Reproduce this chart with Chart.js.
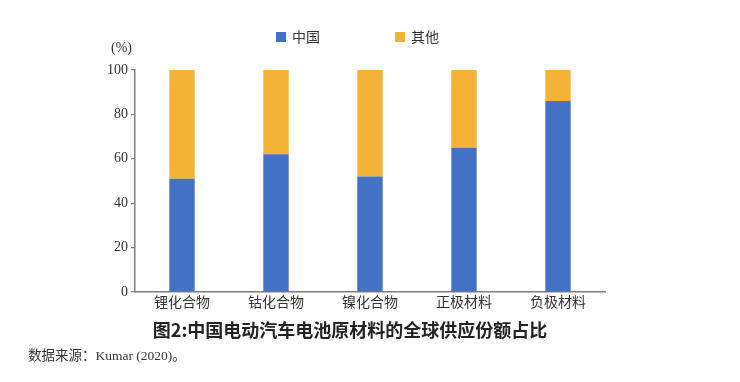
<!DOCTYPE html>
<html>
<head>
<meta charset="utf-8">
<script src="https://cdn.jsdelivr.net/npm/chart.js@4"></script>
<style>
html,body{margin:0;padding:0;background:#fff;}
#wrap{width:740px;height:382px;position:relative;}
</style>
</head>
<body>
<div id="wrap"><canvas id="c" width="740" height="382"></canvas></div>
<script>
const categories = ['锂化合物', '钴化合物', '镍化合物', '正极材料', '负极材料'];
const chinaShare = [51, 62, 52, 65, 86];
const otherShare = [49, 38, 48, 35, 14];
const seriesNames = ['中国', '其他'];
const yTicks = [0, 20, 40, 60, 80, 100];
const unitLabel = '(%)';
const captionText = '图2:中国电动汽车电池原材料的全球供应份额占比';
const sourceText = '数据来源：Kumar (2020)。';

const BLUE = '#4472C4';
const ORANGE = '#F4B236';
const SANS = "'Noto Sans CJK SC', 'Noto Sans', sans-serif";
const SERIF = "'Liberation Serif', 'DejaVu Serif', 'Noto Sans CJK SC', serif";

const extras = {
  id: 'extras',
  afterDraw(chart) {
    const ctx = chart.ctx;
    const a = chart.chartArea;
    ctx.save();
    // legend
    ctx.textBaseline = 'middle';
    ctx.textAlign = 'left';
    ctx.font = '14px ' + SANS;
    const legendY = 37;
    const starts = [276, 395];
    chart.data.datasets.forEach((ds, i) => {
      ctx.fillStyle = ds.backgroundColor;
      ctx.fillRect(starts[i], legendY - 5, 10, 10);
      ctx.fillStyle = '#333';
      ctx.fillText(ds.label, starts[i] + 16, legendY);
    });
    // unit label
    ctx.font = '14px ' + SERIF;
    ctx.fillStyle = '#333';
    ctx.textAlign = 'right';
    ctx.fillText(unitLabel, a.left - 3, 48);
    // caption
    ctx.font = 'bold 18px ' + SANS;
    ctx.fillStyle = '#222';
    ctx.textAlign = 'center';
    ctx.fillText(captionText, 350, 330);
    // source
    ctx.font = '13.5px ' + SERIF;
    ctx.fillStyle = '#333';
    ctx.textAlign = 'left';
    ctx.fillText(sourceText, 28, 356);
    ctx.restore();
  }
};

new Chart(document.getElementById('c'), {
  type: 'bar',
  data: {
    labels: categories,
    datasets: [
      { label: seriesNames[0], data: chinaShare, backgroundColor: BLUE, borderWidth: 0 },
      { label: seriesNames[1], data: otherShare, backgroundColor: ORANGE, borderWidth: 0 }
    ]
  },
  options: {
    responsive: false,
    animation: false,
    devicePixelRatio: 1,
    layout: { padding: { top: 70, left: 0, right: 135, bottom: 60 } },
    plugins: { legend: { display: false }, tooltip: { enabled: false } },
    datasets: { bar: { categoryPercentage: 1, barPercentage: 0.27 } },
    scales: {
      x: {
        stacked: true,
        grid: { display: false, drawTicks: false },
        border: { display: true, color: '#7f7f7f', width: 1.5 },
        ticks: { color: '#333', font: { family: SANS, size: 14 }, padding: 1, maxRotation: 0 },
        afterFit(s) { s.height = 382 - 292 - 60; }
      },
      y: {
        stacked: true,
        min: 0, max: 100,
        afterBuildTicks(s) { s.ticks = yTicks.map(v => ({ value: v })); },
        grid: { display: true, drawOnChartArea: false, drawTicks: true, tickLength: 4, color: '#7f7f7f', lineWidth: 1.2 },
        border: { display: true, color: '#7f7f7f', width: 1.5 },
        ticks: { color: '#333', font: { family: SERIF, size: 14 }, padding: 3 },
        afterFit(s) { s.width = 135; }
      }
    }
  },
  plugins: [extras]
});
</script>
</body>
</html>
